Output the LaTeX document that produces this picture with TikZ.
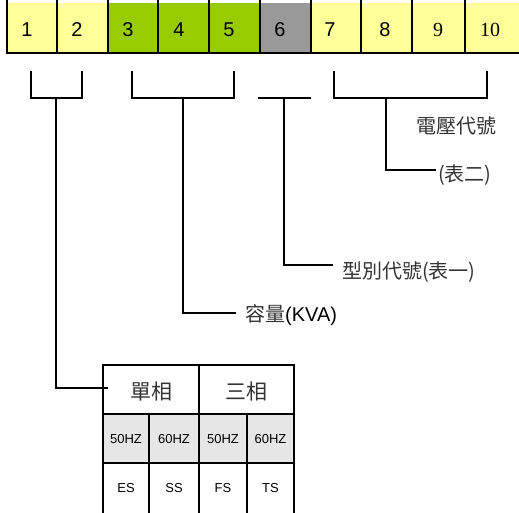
\documentclass[tikz,border=0pt]{standalone}
\usepackage{fontspec}
\setmainfont{Liberation Sans}
\newfontfamily\cjk{Noto Sans CJK TC}
\newfontfamily\tms{Liberation Serif}
\definecolor{yel}{HTML}{FFFF99}
\definecolor{grn}{HTML}{99CC00}
\definecolor{gry}{HTML}{999999}
\definecolor{lgry}{HTML}{E6E6E6}
\definecolor{cjkc}{HTML}{333333}
\begin{document}
\begin{tikzpicture}[x=1pt,y=-1pt,
  cellbox/.style={minimum height=50pt,inner sep=0pt,outer sep=0pt,draw=none},
  digit/.style={inner sep=0pt,font=\fontsize{20}{24}\selectfont},
  lab/.style={inner sep=0pt,anchor=west,font=\fontsize{20}{24}\selectfont},
  cjklab/.style={inner sep=0pt,anchor=west,font=\fontsize{20}{24}\selectfont\cjk,text=cjkc},
  tcell/.style={minimum height=49pt,inner sep=0pt,outer sep=0pt,draw=none},
  small/.style={inner sep=0pt,font=\fontsize{13}{15}\selectfont},
  bline/.style={line width=1.8pt,line cap=rect},
  gline/.style={line width=1.3pt}
]
\useasboundingbox (0,0) rectangle (519,512);
% top row cells
\node[cellbox,fill=yel,minimum width=50pt] (c1) at (32,28) {};
\node[cellbox,fill=yel,minimum width=51pt] (c2) at (82.5,28) {};
\node[cellbox,fill=grn,minimum width=50pt] (c3) at (133,28) {};
\node[cellbox,fill=grn,minimum width=51pt] (c4) at (183.5,28) {};
\node[cellbox,fill=grn,minimum width=51pt] (c5) at (234.5,28) {};
\node[cellbox,fill=gry,minimum width=51pt] (c6) at (285.5,28) {};
\node[cellbox,fill=yel,minimum width=50pt] (c7) at (336,28) {};
\node[cellbox,fill=yel,minimum width=51pt] (c8) at (386.5,28) {};
\node[cellbox,fill=yel,minimum width=53pt] (c9) at (438.5,28) {};
\node[cellbox,fill=yel,minimum width=54pt] (c10) at (492,28) {};
\foreach \x in {7,57,108,158,209,260,311,361,412,465}
  \draw[gline] (\x,0) -- (\x,53);
\draw[gline] (6.35,53) -- (519,53);
% digits
\node[digit] (n1) at (27,29.5) {1};
\node[digit] (n2) at (77,29.5) {2};
\node[digit] (n3) at (128,29.5) {3};
\node[digit] (n4) at (179,29.5) {4};
\node[digit] (n5) at (229,29.5) {5};
\node[digit] (n6) at (280,29.5) {6};
\node[digit] (n7) at (330,29.5) {7};
\node[digit] (n8) at (385,29.5) {8};
\node[digit,font=\fontsize{20}{24}\selectfont\tms] (n9) at (438,29.5) {9};
\node[digit,font=\fontsize{20}{24}\selectfont\tms] (n10) at (490,29.5) {10};
% brackets
\draw[bline] (31,72) -- (31,98) -- (82,98) -- (82,72);
\draw[bline] (132,72) -- (132,98) -- (234,98) -- (234,72);
\draw[bline] (259,98) -- (310,98);
\draw[bline] (334,72) -- (334,98) -- (487,98) -- (487,72);
% labels
\node[cjklab] (volt) at (416,126) {電壓代號};
\node[cjklab] (tab2) at (438,175) {(表二)};
\node[cjklab] (type) at (342,272) {型別代號(表一)};
\node[lab] (cap) at (245,315) {{\cjk\color{cjkc}容量}(KVA)};
\coordinate (e4) at (435,170);
\coordinate (e3) at (332,265);
\coordinate (e2) at (235,313);
\coordinate (e1) at (107,388);
\draw[bline] (386,98) |- (e4);
\draw[bline] (284,98) |- (e3);
\draw[bline] (183,98) |- (e2);
\draw[bline] (56,98) |- (e1);
% table
\node[tcell,minimum width=96pt] (h1) at (151,389.5) {};
\node[tcell,minimum width=95pt] (h2) at (246.5,389.5) {};
\node[tcell,fill=lgry,minimum width=191pt] (grow) at (198.5,438.5) {};
\node[inner sep=0pt,font=\fontsize{21}{24}\selectfont\cjk,text=cjkc] (t1) at (151,392) {單相};
\node[inner sep=0pt,font=\fontsize{21}{24}\selectfont\cjk,text=cjkc] (t2) at (246.5,392) {三相};
\node[small] (f1) at (126,439) {50HZ};
\node[small] (f2) at (174,439) {60HZ};
\node[small] (f3) at (223,439) {50HZ};
\node[small] (f4) at (270.5,439) {60HZ};
\node[small] (s1) at (126,488) {ES};
\node[small] (s2) at (174,488) {SS};
\node[small] (s3) at (223,488) {FS};
\node[small] (s4) at (270.5,488) {TS};
\draw[bline] (103,513) -- (103,365) -- (294,365) -- (294,513);
\draw[bline] (199,365) -- (199,513);
\draw[bline] (103,414) -- (294,414);
\draw[bline] (103,463) -- (294,463);
\draw[bline] (149,414) -- (149,513);
\draw[bline] (247,414) -- (247,513);
\end{tikzpicture}
\end{document}
